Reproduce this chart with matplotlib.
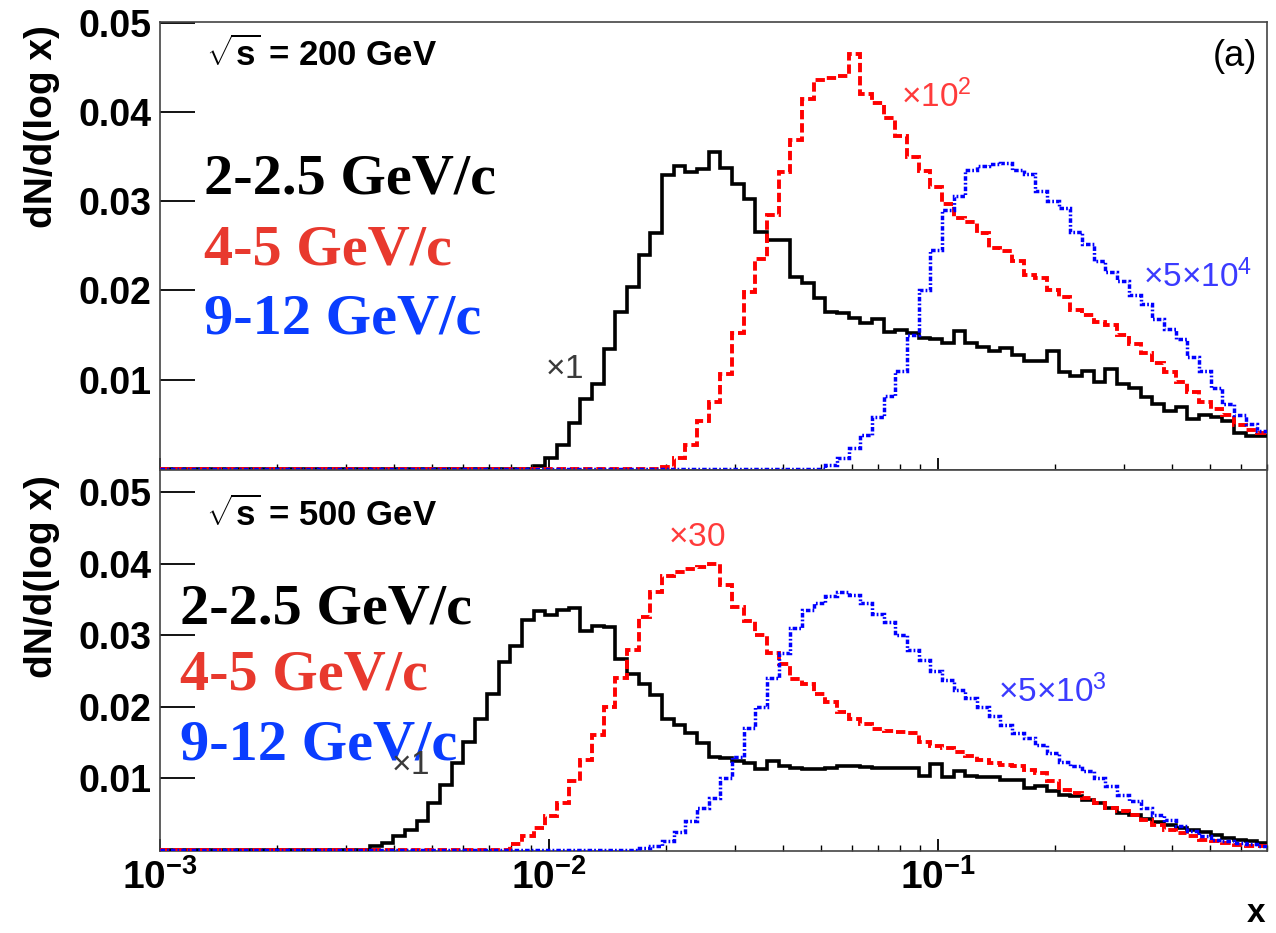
import numpy as np
import matplotlib
matplotlib.use("Agg")
import matplotlib.pyplot as plt
from matplotlib.ticker import NullFormatter, NullLocator, LogLocator

'''
Momentum fraction x distributions for three pT bins at sqrt(s) = 200 and 500 GeV.
Histograms use 0.03-wide bins in log10(x) starting at x = 1e-3.
'''

plt.rcParams["font.family"] = ["Liberation Sans", "DejaVu Sans"]
plt.rcParams["mathtext.fontset"] = "custom"
plt.rcParams["mathtext.rm"] = "Liberation Sans"
plt.rcParams["mathtext.bf"] = "Liberation Sans:bold"
plt.rcParams["mathtext.it"] = "Liberation Sans:italic"

X_MIN, X_MAX = 1e-3, 0.7
N_BINS = 95

# (index of first non-empty bin, bin contents)
black_200_first = 32
black_200 = [0.0003, 0.0012, 0.0027, 0.0051, 0.0078, 0.0095, 0.0134, 0.0176, 0.0204,
             0.0240, 0.0264, 0.0329, 0.0339, 0.0333, 0.0336, 0.0355, 0.0337, 0.0319,
             0.0303, 0.0266, 0.0256, 0.0257, 0.0215, 0.0208, 0.0191, 0.0176, 0.0175,
             0.0169, 0.0163, 0.0168, 0.0153, 0.0156, 0.0152, 0.0147, 0.0145, 0.0141,
             0.0154, 0.0141, 0.0137, 0.0132, 0.0135, 0.0128, 0.0121, 0.0121, 0.0132,
             0.0108, 0.0104, 0.0110, 0.0097, 0.0112, 0.0095, 0.0091, 0.0080, 0.0073,
             0.0065, 0.0069, 0.0056, 0.0060, 0.0058, 0.0053, 0.0040, 0.0037, 0.0037]

red_200_first = 43
red_200 = [0.0002, 0.0012, 0.0027, 0.0054, 0.0075, 0.0106, 0.0152, 0.0198, 0.0235,
           0.0285, 0.0333, 0.0369, 0.0415, 0.0436, 0.0438, 0.0440, 0.0465, 0.0420,
           0.0410, 0.0393, 0.0373, 0.0350, 0.0334, 0.0316, 0.0297, 0.0281, 0.0277,
           0.0264, 0.0248, 0.0244, 0.0233, 0.0217, 0.0214, 0.0200, 0.0192, 0.0178,
           0.0172, 0.0165, 0.0161, 0.0150, 0.0140, 0.0130, 0.0119, 0.0108, 0.0097,
           0.0086, 0.0075, 0.0067, 0.0060, 0.0049, 0.0043, 0.0040]

blue_200_first = 57
blue_200 = [0.0004, 0.0012, 0.0023, 0.0038, 0.0058, 0.0082, 0.0110, 0.0150, 0.0200,
            0.0245, 0.0290, 0.0306, 0.0335, 0.0340, 0.0342, 0.0343, 0.0335, 0.0331,
            0.0311, 0.0300, 0.0292, 0.0265, 0.0252, 0.0233, 0.0221, 0.0210, 0.0195,
            0.0185, 0.0168, 0.0157, 0.0145, 0.0125, 0.0110, 0.0090, 0.0072, 0.0060,
            0.0050, 0.0042]

black_500_first = 18
black_500 = [0.0005, 0.0010, 0.0019, 0.0028, 0.0040, 0.0065, 0.0091, 0.0121, 0.0151,
             0.0183, 0.0218, 0.0262, 0.0285, 0.0322, 0.0334, 0.0329, 0.0336, 0.0338,
             0.0306, 0.0313, 0.0311, 0.0267, 0.0246, 0.0232, 0.0216, 0.0183, 0.0174,
             0.0163, 0.0150, 0.0130, 0.0129, 0.0124, 0.0122, 0.0113, 0.0124, 0.0117,
             0.0115, 0.0113, 0.0113, 0.0115, 0.0117, 0.0117, 0.0116, 0.0115, 0.0114,
             0.0114, 0.0114, 0.0104, 0.0120, 0.0102, 0.0111, 0.0104, 0.0102, 0.0102,
             0.0098, 0.0098, 0.0086, 0.0089, 0.0082, 0.0077, 0.0075, 0.0070, 0.0066,
             0.0058, 0.0051, 0.0049, 0.0043, 0.0039, 0.0035, 0.0031, 0.0028, 0.0025,
             0.0021, 0.0017, 0.0014, 0.0012, 0.0010]

red_500_first = 30
red_500 = [0.0008, 0.0019, 0.0030, 0.0047, 0.0065, 0.0096, 0.0125, 0.0160, 0.0200,
           0.0240, 0.0280, 0.0325, 0.0360, 0.0383, 0.0388, 0.0392, 0.0396, 0.0400,
           0.0370, 0.0340, 0.0320, 0.0300, 0.0275, 0.0260, 0.0239, 0.0232, 0.0218,
           0.0207, 0.0193, 0.0183, 0.0176, 0.0169, 0.0166, 0.0165, 0.0164, 0.0151,
           0.0145, 0.0142, 0.0137, 0.0131, 0.0125, 0.0121, 0.0118, 0.0117, 0.0112,
           0.0107, 0.0096, 0.0084, 0.0079, 0.0072, 0.0065, 0.0058, 0.0054, 0.0049,
           0.0042, 0.0035, 0.0028, 0.0024, 0.0019, 0.0014, 0.0012, 0.0010, 0.0007,
           0.0005, 0.0005]

blue_500_first = 41
blue_500 = [0.0002, 0.0005, 0.0013, 0.0025, 0.0040, 0.0058, 0.0072, 0.0100, 0.0130,
            0.0170, 0.0200, 0.0240, 0.0275, 0.0310, 0.0335, 0.0345, 0.0355, 0.0361,
            0.0356, 0.0345, 0.0330, 0.0318, 0.0300, 0.0280, 0.0265, 0.0250, 0.0238,
            0.0224, 0.0213, 0.0200, 0.0187, 0.0174, 0.0164, 0.0156, 0.0146, 0.0135,
            0.0123, 0.0117, 0.0110, 0.0100, 0.0089, 0.0077, 0.0068, 0.0058, 0.0049,
            0.0042, 0.0033, 0.0026, 0.0019, 0.0014, 0.0012, 0.0010, 0.0008, 0.0006]

pt_labels = ["2-2.5 GeV/c", "4-5 GeV/c", "9-12 GeV/c"]
y_ticks = [0.01, 0.02, 0.03, 0.04, 0.05]
x_ticks = [1e-3, 1e-2, 1e-1]
x_tick_labels = [r"$\mathbf{10^{-3}}$", r"$\mathbf{10^{-2}}$", r"$\mathbf{10^{-1}}$"]

LINE_STYLES = [
    dict(color="black", lw=2.6, ls="-"),
    dict(color="#ff0000", lw=2.8, ls=(0, (2.4, 1.0))),
    dict(color="#0000ff", lw=2.5, ls=(0, (1.3, 0.6, 0.5, 0.6))),
]
TEXT_COLORS = ["black", "#e8392e", "#0a3dff"]

W, H = 1276, 933


def px(x, y):
    """Pixel position in the 1276x933 picture -> figure fraction."""
    return x / W, 1 - y / H


def fill_bins(first, vals):
    """Put the non-empty bins into a full-length array of contents."""
    h = np.zeros(N_BINS)
    h[first:first + len(vals)] = vals
    return h


def setup_axis(ax, ymax, show_xlabels):
    ax.set_xscale("log")
    ax.set_xlim(X_MIN, X_MAX)
    # small negative floor so the empty bins sit on top of the frame, like in ROOT
    ax.set_ylim(-0.00015, ymax)
    ax.set_yticks(y_ticks, [f"{v:.2f}" for v in y_ticks], fontsize=27, fontweight="bold")
    ax.yaxis.set_minor_locator(NullLocator())
    ax.xaxis.set_minor_locator(LogLocator(base=10, subs=np.arange(2, 10)))
    ax.xaxis.set_minor_formatter(NullFormatter())
    if show_xlabels:
        ax.set_xticks(x_ticks, x_tick_labels, fontsize=28)
    else:
        ax.set_xticks(x_ticks, ["", "", ""])
    ax.tick_params(axis="y", which="major", direction="in", length=25, width=1.3,
                   left=True, right=False, pad=6)
    ax.tick_params(axis="x", which="major", direction="in", length=9, width=1.3,
                   top=False, bottom=True, pad=6)
    ax.tick_params(axis="x", which="minor", direction="in", length=4.5, width=1.0,
                   top=False, bottom=True)
    for sp in ax.spines.values():
        sp.set_color("#444444")
        sp.set_linewidth(1.2)


def draw_panel(ax, series):
    edges = np.minimum(np.logspace(-3, -0.15, N_BINS + 1), X_MAX)
    for (first, vals), style in zip(series, LINE_STYLES):
        ax.stairs(fill_bins(first, vals), edges, baseline=None, fill=False,
                  zorder=3, **style)


def main():
    fig = plt.figure(figsize=(W / 100, H / 100), dpi=100)
    left, right = 160, 1267
    ax_top = fig.add_axes([left / W, 1 - 470 / H, (right - left) / W, (470 - 22) / H])
    ax_bot = fig.add_axes([left / W, 1 - 851 / H, (right - left) / W, (851 - 470) / H])

    setup_axis(ax_top, 0.0501, False)
    setup_axis(ax_bot, 0.0531, True)

    draw_panel(ax_top, [(black_200_first, black_200), (red_200_first, red_200),
                        (blue_200_first, blue_200)])
    draw_panel(ax_bot, [(black_500_first, black_500), (red_500_first, red_500),
                        (blue_500_first, blue_500)])

    # axis titles
    for yc in (127, 577):
        fig.text(*px(42, yc), "dN/d(log x)", rotation=90, fontsize=28,
                 fontweight="bold", ha="center", va="center")
    fig.text(*px(1256, 914), "x", fontsize=24, fontweight="bold", ha="center", va="center")

    # energies and panel tag
    fig.text(*px(206, 55), r"$\sqrt{\mathbf{s}}$ = 200 GeV", fontsize=25,
             fontweight="bold", va="center")
    fig.text(*px(206, 515), r"$\sqrt{\mathbf{s}}$ = 500 GeV", fontsize=25,
             fontweight="bold", va="center")
    fig.text(*px(1257, 57), "(a)", fontsize=26, ha="right", va="center")

    # pT bin labels
    for lab, col, yc in zip(pt_labels, TEXT_COLORS, (180, 250, 320)):
        fig.text(*px(204, yc), lab, family="Liberation Serif", fontweight="bold",
                 fontsize=42, color=col, va="center")
    for lab, col, yc in zip(pt_labels, TEXT_COLORS, (609, 676, 746)):
        fig.text(*px(180, yc), lab, family="Liberation Serif", fontweight="bold",
                 fontsize=42, color=col, va="center")

    # scale factors
    scale_notes = [
        (564, 370, r"$\times1$", "#3a3a3a"),
        (936, 97, r"$\times10^{2}$", "#ff3b3b"),
        (1198, 277, r"$\times5{\times}10^{4}$", "#3b3bff"),
        (410, 766, r"$\times1$", "#3a3a3a"),
        (697, 537, r"$\times30$", "#ff3b3b"),
        (1052, 692, r"$\times5{\times}10^{3}$", "#3b3bff"),
    ]
    for x, y, txt, col in scale_notes:
        fig.text(*px(x, y), txt, fontsize=24, color=col, ha="center", va="center")

    fig.savefig("out.png", dpi=100)
    plt.close(fig)


if __name__ == "__main__":
    main()
